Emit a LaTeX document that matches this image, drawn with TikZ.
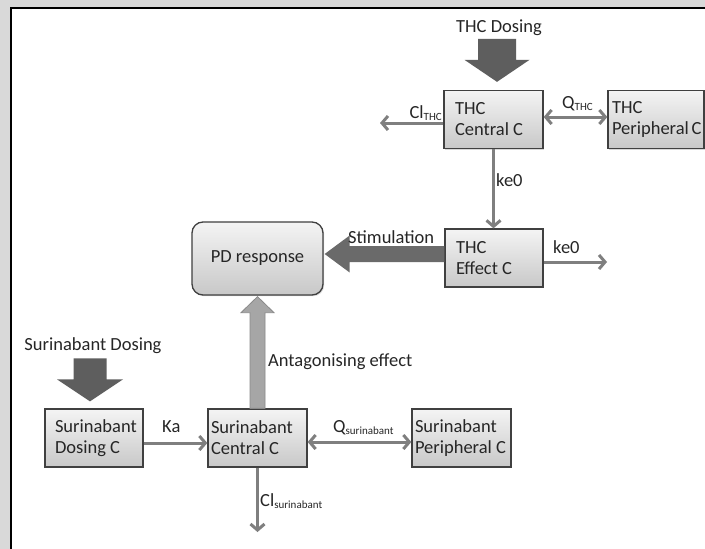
\documentclass[tikz,border=0pt]{standalone}
\usepackage{fontspec}
\setmainfont{Carlito}
\usetikzlibrary{arrows.meta,calc,shadows}
\definecolor{bggrey}{HTML}{D9D9D9}
\definecolor{arrowgrey}{HTML}{7F7F7F}
\definecolor{dosegrey}{HTML}{5E5E5E}
\definecolor{stimgrey}{HTML}{6A6A6A}
\definecolor{antgrey}{HTML}{A6A6A6}
\definecolor{antedge}{HTML}{8A8A8A}
\definecolor{boxedge}{HTML}{404040}
\definecolor{boxtop}{HTML}{F4F4F4}
\definecolor{boxbot}{HTML}{C8C8C8}
\definecolor{txt}{HTML}{262626}
\newcommand\subtxt[1]{\raisebox{-0.3ex}{\fontsize{11}{11}\selectfont #1}}
\begin{document}
\begin{tikzpicture}[x=1pt,y=-1pt, font=\fontsize{18.5}{21}\selectfont, text=txt,
  comp/.style={draw=boxedge, line width=1.3pt, top color=boxtop, bottom color=boxbot,
    minimum height=58pt, inner ysep=0pt, align=flush left,
    drop shadow={shadow xshift=1.2pt, shadow yshift=-1.2pt, opacity=0.3}},
  flow/.style={draw=arrowgrey, line width=3pt, -{Straight Barb[length=6pt,width=14pt]}},
  flowtwo/.style={draw=arrowgrey, line width=3pt, {Straight Barb[length=6pt,width=14pt]}-{Straight Barb[length=6pt,width=14pt]}},
  lbl/.style={inner sep=0pt},
]
\useasboundingbox (0,0) rectangle (705,549);
\fill[bggrey] (0,0) rectangle (705,549);
\fill[white] (10,7) rectangle (705,549);
\draw[black, line width=2pt] (11,549) -- (11,7.5) -- (705,7.5);

% compartments
\node[comp, text width=77pt, inner xsep=11pt] (thcc) at (493.5,119.5) {THC\\Central C};
\node[comp, text width=88pt, inner xsep=4pt] (thcp) at (656,119.5) {THC\\Peripheral~C};
\node[comp, text width=76pt, inner xsep=11pt] (thce) at (494,258) {THC\\Effect C};
\node[comp, text width=78pt, inner xsep=10pt] (sdc) at (94,438) {Surinabant\\Dosing C};
\node[comp, text width=93pt, inner xsep=3pt] (scc) at (257.5,438) {Surinabant\\Central C};
\node[comp, text width=93pt, inner xsep=3pt] (spc) at (461.5,438) {Surinabant\\Peripheral~C};
\node[comp, rounded corners=11pt, minimum width=131pt, minimum height=73pt, align=center] (pd) at (257.5,258.5) {PD response};

% dosing labels
\node[lbl, anchor=base] (thcdose) at (499,32) {THC Dosing};
\node[lbl, anchor=base] (surdose) at (93,350) {Surinabant Dosing};

% dosing arrows
\fill[dosegrey] ($(thcc.north)+(3.5,-8)$) -- ++(-32.5,-22) -- ++(13.5,0) -- ++(0,-21) -- ++(38,0) -- ++(0,21) -- ++(13.5,0) -- cycle;
\fill[dosegrey] ($(sdc.north)+(-4,-7)$) -- ++(-33,-22) -- ++(16.5,0) -- ++(0,-21) -- ++(33,0) -- ++(0,21) -- ++(16.5,0) -- cycle;

% stimulation arrow
\fill[stimgrey] ($(pd.east)+(1,-4.5)$) -- ++(25,-18.5) -- ++(0,10.5) -- ($(thce.west)+(0,-12)$) -- ++(0,16) -- ($(pd.east)+(26,3.5)$) -- ++(0,10.5) -- cycle;

% antagonising arrow
\filldraw[fill=antgrey, draw=antedge, line width=0.8pt] ($(pd.south)+(0,1)$) -- ++(16.5,16) -- ++(-9,0) -- ($(scc.north)+(7.5,0)$) -- ++(-15,0) -- ($(pd.south)+(-7.5,17)$) -- ++(-9,0) -- cycle;

% thin flows
\coordinate (clthcend) at (380,123);
\coordinate (keend) at (607,262);
\coordinate (clsurend) at (258,532);
\draw[flow] ($(thcc.west)+(0,3.5)$) -- (clthcend);
\draw[flowtwo] ($(thcc.east)+(0,-2.5)$) -- ($(thcp.west)+(0,-2.5)$);
\draw[flow] (thcc.south) -- (thcc.south |- thce.north);
\draw[flow] ($(thce.east)+(0,4)$) -- (keend);
\draw[flow] ($(sdc.east)+(0,5)$) -- ($(scc.west)+(0,5)$);
\draw[flowtwo] ($(scc.east)+(0,4)$) -- ($(spc.west)+(0,4)$);
\draw[flow] (scc.south) -- (scc.south |- clsurend);

% labels
\node[lbl, anchor=base east] (lclthc) at (442,118) {Cl\subtxt{THC}};
\node[lbl, anchor=base west] (lqthc) at (562,108) {Q\subtxt{THC}};
\node[lbl, anchor=base west] (lkea) at (496,186) {ke0};
\node[lbl, anchor=base west] (lkeb) at (553,253) {ke0};
\node[lbl, anchor=base west] (lstim) at (348,243) {Stimulation};
\node[lbl, anchor=base west] (lant) at (268,366) {Antagonising effect};
\node[lbl, anchor=base west] (lka) at (162,432) {Ka};
\node[lbl, anchor=base west] (lqsur) at (333,432) {Q\subtxt{surinabant}};
\node[lbl, anchor=base west] (lclsur) at (260,506) {Cl\subtxt{surinabant}};
\end{tikzpicture}
\end{document}
